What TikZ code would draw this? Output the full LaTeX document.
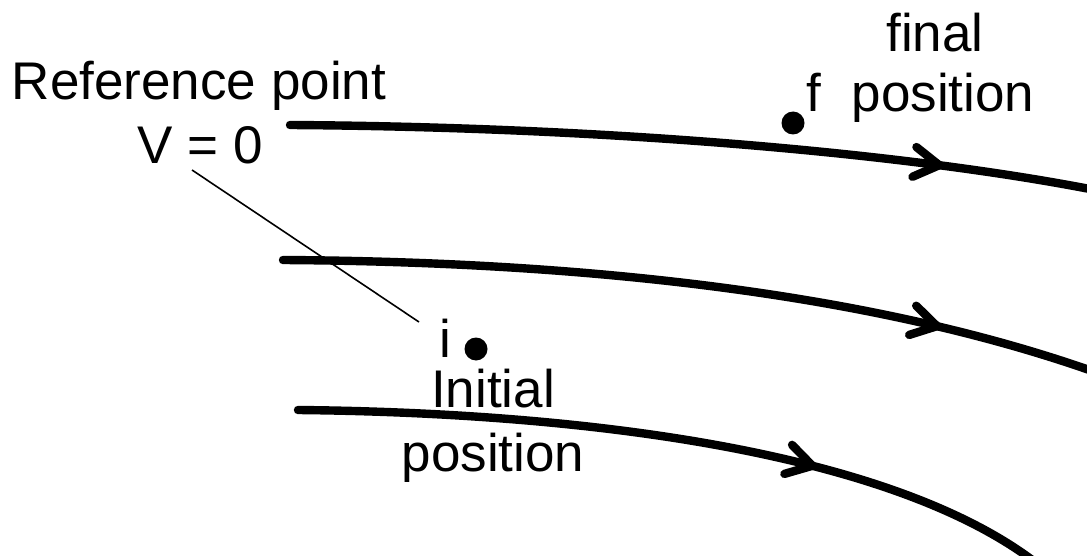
\documentclass[tikz,border=0pt]{standalone}
\usepackage{fontspec}
\setmainfont{Liberation Sans}
\usetikzlibrary{arrows.meta,decorations.markings}
\begin{document}
\begin{tikzpicture}[x=0.5pt,y=-0.5pt,
  lbl/.style={inner sep=0pt,anchor=base,font=\fontsize{26.5}{30}\selectfont},
  field/.style={line width=4.2pt,line cap=round},
  barb/.style={postaction={decorate,decoration={markings,
     mark=at position #1 with {\arrow[line width=4.2pt,line cap=round]{Straight Barb[length=12.5pt,width=15pt,line cap=round]}}}}},
  dotc/.style={circle,fill=black,inner sep=0pt,minimum size=11.5pt},
  leader/.style={line width=0.8pt}]
\useasboundingbox (0,0) rectangle (1087,556);
% field lines
\draw[field,barb=0.815] (290,125) .. controls (600,127) and (900,152) .. (1095,190);
\draw[field,barb=0.81] (283,260) .. controls (600,262) and (880,296) .. (1095,372);
\draw[field,barb=0.685] (298,410) .. controls (600,413) and (900,455) .. (1040,566);
% labels
\node[lbl] (ref) at (199,100) {Reference point};
\node[lbl] (v0) at (200,163) {V = 0};
\node[lbl] (fin) at (935,52) {final};
\node[lbl] (fpos) at (943,112) {position};
\node[lbl] (fl) at (814,112) {f};
\node[dotc] (fd) at (793,123) {};
\node[lbl] (il) at (445,357) {i};
\node[dotc] (id) at (476,349) {};
\node[lbl] (ini) at (493,407) {Initial};
\node[lbl] (ipos) at (493,471) {position};
% leader
\coordinate (la) at (192,170);
\coordinate (lb) at (419,322);
\draw[leader] (la) -- (lb);
\end{tikzpicture}
\end{document}
